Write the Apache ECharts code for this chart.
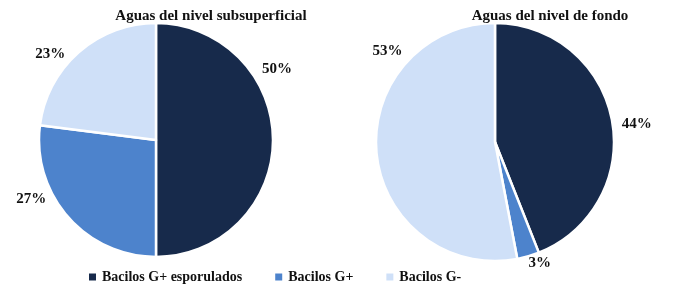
<!DOCTYPE html>
<html><head><meta charset="utf-8">
<script src="https://cdn.jsdelivr.net/npm/echarts@6/dist/echarts.min.js"></script>
<style>html,body{margin:0;padding:0;background:#fff}#c{width:700px;height:291px}</style>
</head><body><div id="c"></div>
<script>
const categories = ['Bacilos G+ esporulados', 'Bacilos G+', 'Bacilos G-'];
const subsuperficial = [50, 27, 23];
const fondo = [44, 3, 53];
const titles = ['Aguas del nivel subsuperficial', 'Aguas del nivel de fondo'];
const colors = ['#172a4b', '#4d83cc', '#cfe0f8'];

const font = '"Liberation Serif", "Times New Roman", serif';
function mk(vals) { return vals.map((v, i) => ({ name: categories[i], value: v })); }
const chart = echarts.init(document.getElementById('c'), null, { renderer: 'canvas' });
const lbl = {
  show: true, position: 'outside', formatter: p => p.value + '%',
  fontFamily: font, fontWeight: 'bold', fontSize: 15, color: '#111'
};
// label nudges (Excel-like "best fit" placement)
const nudges = {
  '0-0': [-24, -71], '0-1': [-11, -24], '0-2': [-3, 8],
  '1-0': [-3, 6], '1-1': [-7, -1], '1-2': [39, -103]
};
chart.setOption({
  animation: false,
  color: colors,
  title: [
    { text: titles[0], left: 206, top: 4, textAlign: 'center', textStyle: { fontFamily: font, fontWeight: 'bold', fontSize: 15, color: '#111' } },
    { text: titles[1], left: 545, top: 4, textAlign: 'center', textStyle: { fontFamily: font, fontWeight: 'bold', fontSize: 15, color: '#111' } }
  ],
  legend: {
    bottom: 2, left: 82, itemWidth: 9, itemHeight: 9, itemGap: 31, icon: 'rect',
    textStyle: { fontFamily: font, fontWeight: 'bold', fontSize: 14, color: '#111' },
    data: categories
  },
  series: [
    { type: 'pie', center: [156, 140], radius: 117, startAngle: 90, clockwise: true,
      itemStyle: { borderColor: '#fff', borderWidth: 2.5 },
      label: lbl, labelLine: { show: false, length: 8, length2: 0 },
      labelLayout: p => { const n = nudges['0-' + p.dataIndex]; return { dx: n[0], dy: n[1] }; },
      data: mk(subsuperficial) },
    { type: 'pie', center: [495, 142], radius: 119, startAngle: 90, clockwise: true,
      itemStyle: { borderColor: '#fff', borderWidth: 2.5 },
      label: lbl, labelLine: { show: false, length: 8, length2: 0 },
      labelLayout: p => { const n = nudges['1-' + p.dataIndex]; return { dx: n[0], dy: n[1] }; },
      data: mk(fondo) }
  ]
});
</script></body></html>
